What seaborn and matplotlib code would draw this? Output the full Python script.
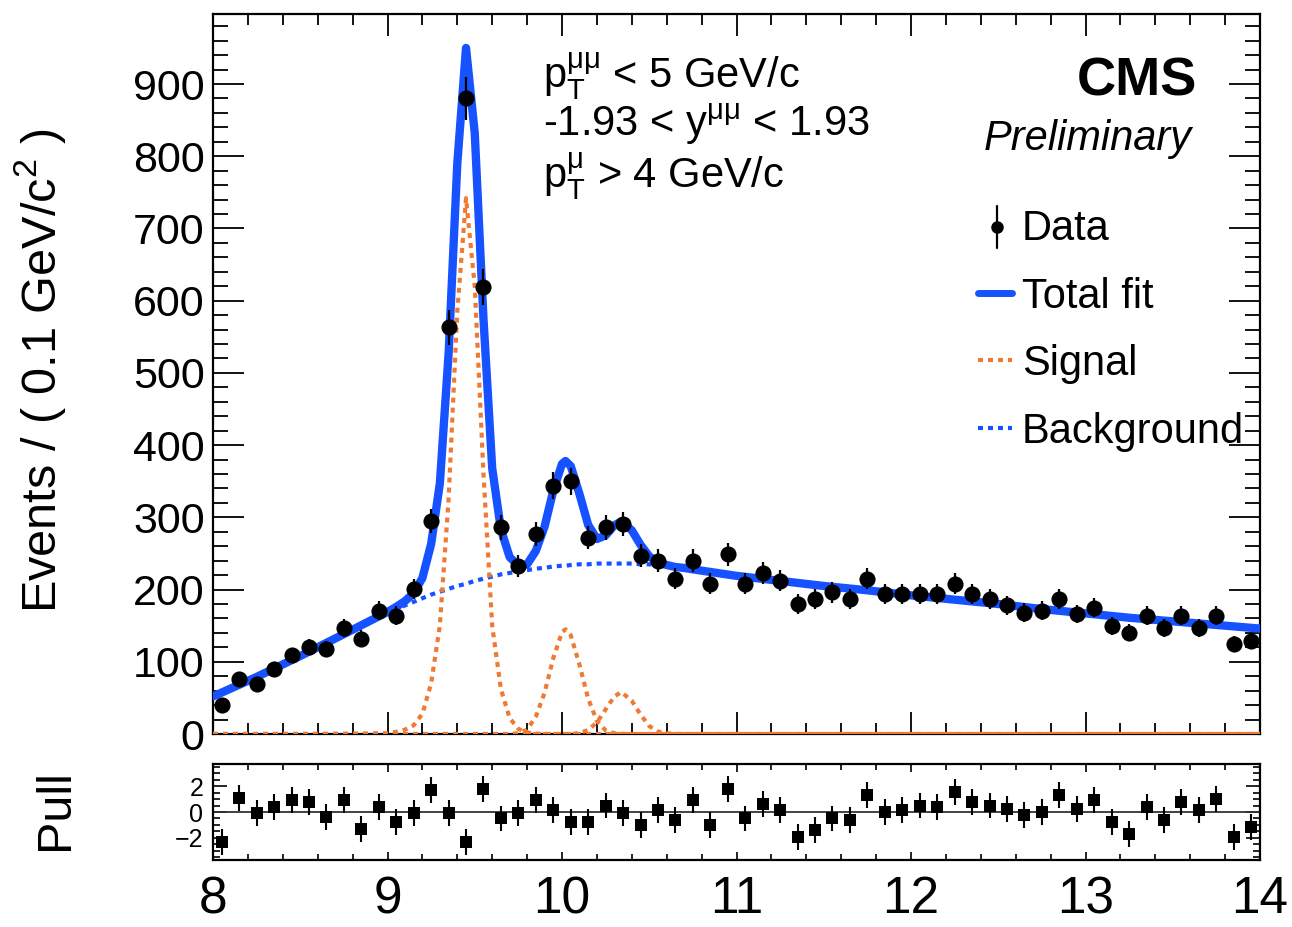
import numpy as np
import pandas as pd
import matplotlib
matplotlib.use("Agg")
import matplotlib.pyplot as plt
from matplotlib.lines import Line2D
from matplotlib.ticker import MultipleLocator, FixedLocator, NullFormatter
import seaborn as sns

# ---------------------------------------------------------------- data
# dimuon invariant mass histogram, 0.1 GeV/c^2 bins from 8 to 14 GeV/c^2
mass_lo, mass_hi, bin_width = 8.0, 14.0, 0.1
events = [40, 76, 69, 90, 109, 120, 118, 147, 132, 171,
          164, 201, 295, 563, 880, 619, 286, 233, 277, 344,
          350, 272, 286, 291, 247, 240, 215, 240, 208, 249,
          208, 223, 212, 180, 187, 196, 187, 215, 194, 194,
          194, 194, 208, 194, 187, 178, 168, 171, 187, 166,
          175, 150, 140, 164, 147, 164, 147, 164, 125, 129]
pulls = [-2.3, 1.05, -0.1, 0.4, 0.9, 0.77, -0.4, 0.9, -1.3, 0.4,
         -0.77, -0.1, 1.67, -0.1, -2.3, 1.8, -0.5, -0.1, 0.9, 0.13,
         -0.77, -0.77, 0.5, -0.1, -1.0, 0.13, -0.64, 0.9, -1.0, 1.8,
         -0.5, 0.64, 0.13, -1.9, -1.4, -0.5, -0.64, 1.28, 0.0, 0.13,
         0.5, 0.4, 1.54, 0.77, 0.5, 0.26, -0.26, 0.0, 1.28, 0.26,
         0.9, -0.77, -1.67, 0.4, -0.64, 0.77, 0.13, 1.03, -1.9, -1.15]

# fit components sampled along the mass axis
fit_mass = [8.00, 8.25, 8.50, 8.75, 9.00, 9.05, 9.10, 9.15, 9.20, 9.25,
            9.30, 9.35, 9.40, 9.45, 9.50, 9.55, 9.60, 9.65, 9.70, 9.75,
            9.80, 9.85, 9.90, 9.95, 10.00, 10.02, 10.05, 10.10, 10.15, 10.20,
            10.25, 10.30, 10.34, 10.40, 10.45, 10.50, 10.55, 10.60, 10.65, 10.70,
            10.75, 11.00, 11.25, 11.50, 11.75, 12.00, 12.25, 12.50, 12.75, 13.00,
            13.25, 13.50, 13.75, 14.00]
background = [52, 79, 108, 138, 168, 173, 178, 183, 188, 193,
              197, 201, 205, 208, 212, 215, 218, 221, 223, 225,
              227, 229, 230, 232, 233, 233, 234, 235, 235, 236,
              236, 236, 236, 236, 235, 235, 234, 233, 231, 230,
              228, 219, 212, 205, 199, 192, 186, 180, 173, 167,
              161, 156, 151, 146]
signal_1s = [0, 0, 0, 0.3, 1, 3, 6, 12, 28, 70,
             150, 325, 585, 742, 620, 360, 150, 62, 22, 7,
             2, 0.5, 0.1, 0, 0, 0, 0, 0, 0, 0,
             0, 0, 0, 0, 0, 0, 0, 0, 0, 0,
             0, 0, 0, 0, 0, 0, 0, 0, 0, 0,
             0, 0, 0, 0]
signal_2s = [0, 0, 0, 0, 0, 0, 0, 0, 0, 0,
             0, 0, 0, 0, 0, 0, 0, 0, 0, 1,
             6, 24, 57, 105, 141, 145, 137, 96, 49, 18,
             5, 1, 0.3, 0, 0, 0, 0, 0, 0, 0,
             0, 0, 0, 0, 0, 0, 0, 0, 0, 0,
             0, 0, 0, 0]
signal_3s = [0, 0, 0, 0, 0, 0, 0, 0, 0, 0,
             0, 0, 0, 0, 0, 0, 0, 0, 0, 0,
             0, 0, 0, 0, 0, 0, 0, 1.4, 5.5, 16,
             34, 52, 58, 46, 27, 11, 3.4, 1, 0.2, 0,
             0, 0, 0, 0, 0, 0, 0, 0, 0, 0,
             0, 0, 0, 0]

x_tick_labels = ["8", "9", "10", "11", "12", "13", "14"]

# ---------------------------------------------------------------- frames
centers = np.arange(mass_lo + bin_width / 2, mass_hi, bin_width)
hist = pd.DataFrame({"mass": centers, "events": events, "pull": pulls})
hist["err"] = np.sqrt(hist["events"])

curves = pd.DataFrame({"mass": fit_mass, "bkg": background,
                       "s1": signal_1s, "s2": signal_2s, "s3": signal_3s})
curves["total"] = curves[["bkg", "s1", "s2", "s3"]].sum(axis=1)

# ---------------------------------------------------------------- style
sns.set_theme(style="ticks")
plt.rcParams["font.family"] = ["Liberation Sans", "DejaVu Sans"]
plt.rcParams["mathtext.fontset"] = "custom"
plt.rcParams["mathtext.rm"] = "Liberation Sans"
plt.rcParams["mathtext.it"] = "Liberation Sans:italic"
plt.rcParams["mathtext.bf"] = "Liberation Sans:bold"
plt.rcParams["axes.unicode_minus"] = True
plt.rcParams["text.color"] = "black"
plt.rcParams["xtick.color"] = "black"
plt.rcParams["ytick.color"] = "black"
plt.rcParams["xtick.labelcolor"] = "black"
plt.rcParams["ytick.labelcolor"] = "black"

BLUE = "#1652ff"
ORANGE = "#ef7a34"
DOT = (0, (1.2, 1.2))
W, H = 1292, 927

fig = plt.figure(figsize=(W / 100, H / 100), dpi=100)
fig.patch.set_facecolor("white")


def fx(px):
    return px / W


def fy(py):
    return 1 - py / H


ax = fig.add_axes([fx(213), fy(734), fx(1260) - fx(213), fy(14) - fy(734)])
axp = fig.add_axes([fx(213), fy(860), fx(1260) - fx(213), fy(764) - fy(860)])

# ---------------------------------------------------------------- main panel
sns.lineplot(data=curves, x="mass", y="bkg", ax=ax, color=BLUE, lw=3,
             linestyle=DOT, estimator=None, sort=False, legend=False, zorder=3)
for comp in ["s1", "s2", "s3"]:
    sns.lineplot(data=curves, x="mass", y=comp, ax=ax, color=ORANGE, lw=3,
                 linestyle=DOT, estimator=None, sort=False, legend=False,
                 zorder=3)
sns.lineplot(data=curves, x="mass", y="total", ax=ax, color=BLUE, lw=6,
             estimator=None, sort=False, legend=False, zorder=4)

ax.errorbar(hist["mass"], hist["events"], yerr=hist["err"], fmt="none",
            ecolor="black", elinewidth=1.6, capsize=0, zorder=5)
sns.scatterplot(data=hist, x="mass", y="events", ax=ax, color="black",
                marker="o", s=135, linewidth=0, legend=False, zorder=6)

ax.set_xlim(mass_lo, mass_hi)
ax.set_ylim(0, 997)
ax.set_xlabel("")
ax.set_ylabel("")
ax.xaxis.set_major_locator(MultipleLocator(1))
ax.xaxis.set_minor_locator(MultipleLocator(0.2))
ax.yaxis.set_major_locator(MultipleLocator(100))
ax.yaxis.set_minor_locator(MultipleLocator(20))
ax.xaxis.set_major_formatter(NullFormatter())
ax.tick_params(which="both", direction="in", top=True, right=True,
               bottom=True, left=True, colors="black", width=1.3)
ax.tick_params(axis="x", which="major", length=16)
ax.tick_params(axis="x", which="minor", length=8)
ax.tick_params(axis="y", which="major", length=22, labelsize=31, pad=6)
ax.tick_params(axis="y", which="minor", length=11)
for sp in ax.spines.values():
    sp.set_color("black")
    sp.set_linewidth(1.6)

# ---------------------------------------------------------------- pull panel
axp.axhline(0, color="#333333", lw=1.3, zorder=1)
axp.errorbar(hist["mass"], hist["pull"], yerr=1.0, fmt="none",
             ecolor="black", elinewidth=1.5, capsize=0, zorder=3)
sns.scatterplot(data=hist, x="mass", y="pull", ax=axp, color="black",
                marker="s", s=80, linewidth=0, legend=False, zorder=4)
axp.set_xlim(mass_lo, mass_hi)
axp.set_ylim(-3.7, 3.7)
axp.set_xlabel("")
axp.set_ylabel("")
axp.xaxis.set_major_locator(FixedLocator(range(8, 15)))
axp.set_xticklabels(x_tick_labels)
axp.xaxis.set_minor_locator(MultipleLocator(0.2))
axp.yaxis.set_major_locator(FixedLocator([-2, 0, 2]))
axp.yaxis.set_minor_locator(MultipleLocator(0.5))
axp.tick_params(which="both", direction="in", top=True, right=True,
                bottom=True, left=True, colors="black", width=1.2)
axp.tick_params(axis="x", which="major", length=6, labelsize=37, pad=11)
axp.tick_params(axis="x", which="minor", length=4)
axp.tick_params(axis="y", which="major", length=10, labelsize=18, pad=7)
axp.tick_params(axis="y", which="minor", length=5)
for sp in axp.spines.values():
    sp.set_color("black")
    sp.set_linewidth(1.6)

# ---------------------------------------------------------------- labels
fig.text(fx(40), fy(371), r"Events / ( 0.1 GeV/c$^{2}$ )", rotation=90,
         ha="center", va="center", fontsize=35)
fig.text(fx(55), fy(810), "Pull", rotation=90, ha="center", va="center",
         fontsize=35)

fig.text(fx(543), fy(89), r"$\mathrm{p}_{\mathrm{T}}^{\mathrm{μμ}}$ < 5 GeV/c",
         ha="left", va="baseline", fontsize=30)
fig.text(fx(543), fy(136), r"-1.93 < y$^{\mathrm{μμ}}$ < 1.93",
         ha="left", va="baseline", fontsize=30)
fig.text(fx(543), fy(189), r"$\mathrm{p}_{\mathrm{T}}^{\mathrm{μ}}$ > 4 GeV/c",
         ha="left", va="baseline", fontsize=30)

fig.text(fx(1197), fy(95), "CMS", ha="right", va="baseline", fontsize=39,
         fontweight="bold")
fig.text(fx(1192), fy(150), "Preliminary", ha="right", va="baseline",
         fontsize=30, style="italic")

# ---------------------------------------------------------------- legend
leg_rows = [("Data", 240, 227), ("Total fit", 308, 293),
            ("Signal", 375, 360), ("Background", 443, 428)]
for label, base, mid in leg_rows:
    fig.text(fx(1022), fy(base), label, ha="left", va="baseline", fontsize=30)

_, _, y_data = leg_rows[0]
fig.add_artist(Line2D([fx(997), fx(997)], [fy(y_data - 21), fy(y_data + 21)],
                      transform=fig.transFigure, color="black", lw=1.6))
fig.add_artist(Line2D([fx(997)], [fy(y_data)], transform=fig.transFigure,
                      marker="o", markersize=8, color="black", lw=0))
fig.add_artist(Line2D([fx(978), fx(1012)], [fy(leg_rows[1][2])] * 2,
                      transform=fig.transFigure, color=BLUE, lw=5))
fig.add_artist(Line2D([fx(978), fx(1012)], [fy(leg_rows[2][2])] * 2,
                      transform=fig.transFigure, color=ORANGE, lw=3,
                      linestyle=DOT))
fig.add_artist(Line2D([fx(978), fx(1012)], [fy(leg_rows[3][2])] * 2,
                      transform=fig.transFigure, color=BLUE, lw=3,
                      linestyle=DOT))

fig.savefig("out.png", dpi=100, facecolor="white")
